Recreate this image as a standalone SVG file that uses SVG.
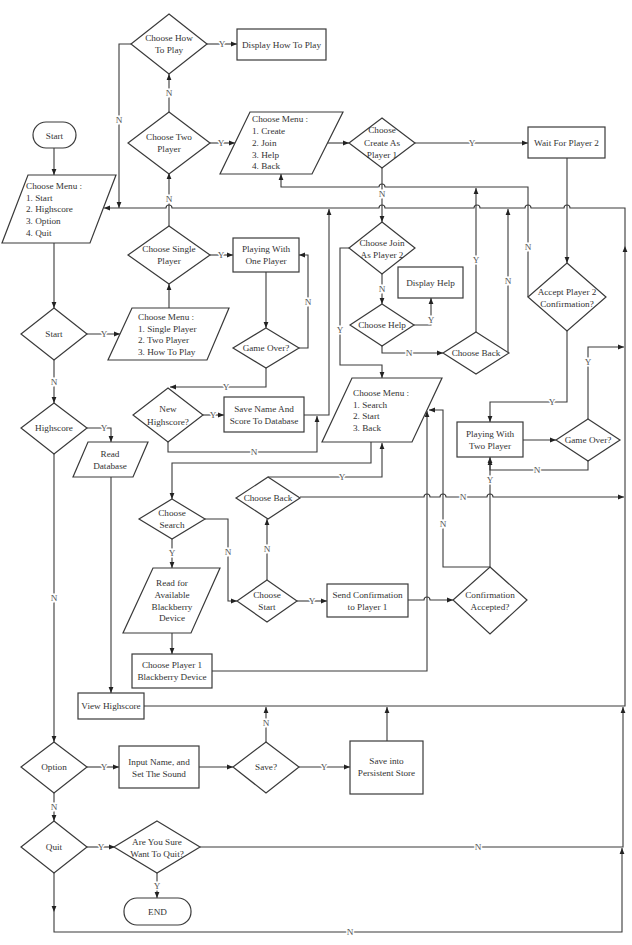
<svg xmlns="http://www.w3.org/2000/svg" width="632" height="945" viewBox="0 0 632 945">
<style>
.n{fill:#fff;stroke:#3a3a3a;stroke-width:1.2}
.c{fill:none;stroke:#3a3a3a;stroke-width:1.1;marker-end:url(#a)}
.p{fill:none;stroke:#3a3a3a;stroke-width:1.1}
text{font-family:"Liberation Serif","Times New Roman",serif;font-size:9.2px;fill:#333}
.m{text-anchor:middle}
.l{text-anchor:middle;fill:#555;paint-order:stroke;stroke:#fff;stroke-width:3px}
</style>
<defs>
<marker id="a" viewBox="0 0 10 10" refX="10" refY="5" markerWidth="6" markerHeight="6" orient="auto" markerUnits="userSpaceOnUse"><path d="M0,1 L10,5 L0,9 z" fill="#222"/></marker>
</defs>
<rect width="632" height="945" fill="#fff"/>

<g id="connectors">
<path class="c" d="M54,148 V175"/>
<path class="c" d="M54,243 V308"/>
<path class="c" d="M87,334 H120"/>
<path class="c" d="M169,308 V284"/>
<path class="c" d="M210,255 H233"/>
<path class="c" d="M169,226 V173"/>
<path class="c" d="M169,112 V74"/>
<path class="c" d="M207,44 H237"/>
<path class="c" d="M131,44 H119 V208"/>
<path class="c" d="M210,143 H235"/>
<path class="c" d="M327.5,143 H349"/>
<path class="c" d="M415,143 H528"/>
<path class="c" d="M382,168 V222"/>
<path class="c" d="M567,158 V263"/>
<path class="c" d="M528,297 V187 H385 A3,3 0 0 0 379,187 H281 V174"/>
<path class="c" d="M567,331 V402 H490 V422"/>
<path class="c" d="M523,440 H556"/>
<path class="c" d="M588,419 V347 H624"/>
<path class="c" d="M588,461 V470 H490 V457"/>
<path class="c" d="M350,248 H340 V365 H382 V378"/>
<path class="c" d="M382,274 V304"/>
<path class="c" d="M414,325 H431 V298"/>
<path class="c" d="M382,346 V353 H443"/>
<path class="c" d="M476,332 V188"/>
<path class="c" d="M508,353 V209"/>
<path class="c" d="M266,272 V328"/>
<path class="c" d="M299,348 H308 V255 H299"/>
<path class="c" d="M266,368 V387 H170"/>
<path class="c" d="M203,415 H224"/>
<path class="c" d="M304,415 H329 V209"/>
<path class="c" d="M168,442 V452 H317 V416"/>
<path class="c" d="M54,360 V403"/>
<path class="c" d="M87,428 H111 V442"/>
<path class="c" d="M111,477 V693"/>
<path class="c" d="M54,454 V742"/>
<path class="c" d="M87,767 H119"/>
<path class="c" d="M199,767 H233"/>
<path class="c" d="M299,767 H350"/>
<path class="c" d="M266,742 V707"/>
<path class="c" d="M387,741 V707"/>
<path class="c" d="M54,793 V821"/>
<path class="c" d="M87,847 H115"/>
<path class="c" d="M157,873 V898"/>
<path class="c" d="M54,873 V912"/>
<path class="c" d="M54,912 V932 H622 V848"/>
<path class="c" d="M200,847 H623 V707"/>
<path class="c" d="M144,706 H625 V246"/>
<path class="c" d="M625,246 V208 H570 A3,3 0 0 0 564,208 H531 A3,3 0 0 0 525,208 H480 A3,3 0 0 0 474,208 H385 A3,3 0 0 0 379,208 H172 A3,3 0 0 0 166,208 H104"/>
<path class="c" d="M371,442 V463 H172 V499"/>
<path class="c" d="M172,539 V568"/>
<path class="c" d="M172,633 V654"/>
<path class="c" d="M212,671 H427 V411"/>
<path class="c" d="M205,519 H228 V601 H237"/>
<path class="c" d="M267,580 V519"/>
<path class="c" d="M268,477 H382 V443"/>
<path class="c" d="M300,497 H424 A3,3 0 0 1 430,497 H440 A3,3 0 0 1 446,497 H487 A3,3 0 0 1 493,497 H624"/>
<path class="c" d="M297,601 H327"/>
<path class="c" d="M408,600 H424 A3,3 0 0 1 430,600 H453"/>
<path class="c" d="M490,567 V459"/>
<path class="c" d="M490,567 H443 V410 H429"/>
</g>

<g id="labels">
<text class="l" x="104" y="337">Y</text>
<text class="l" x="221" y="258">Y</text>
<text class="l" x="169" y="202">N</text>
<text class="l" x="169" y="96">N</text>
<text class="l" x="222" y="47">Y</text>
<text class="l" x="119" y="123">N</text>
<text class="l" x="221" y="146">Y</text>
<text class="l" x="472" y="146">Y</text>
<text class="l" x="382" y="197">N</text>
<text class="l" x="528" y="250">N</text>
<text class="l" x="552" y="405">Y</text>
<text class="l" x="588" y="365">Y</text>
<text class="l" x="537" y="473">N</text>
<text class="l" x="340" y="333">Y</text>
<text class="l" x="382" y="292">N</text>
<text class="l" x="431" y="323">Y</text>
<text class="l" x="409" y="356">N</text>
<text class="l" x="476" y="263">Y</text>
<text class="l" x="508" y="284">N</text>
<text class="l" x="308" y="305">N</text>
<text class="l" x="226" y="390">Y</text>
<text class="l" x="213" y="418">Y</text>
<text class="l" x="254" y="455">N</text>
<text class="l" x="54" y="385">N</text>
<text class="l" x="104" y="431">Y</text>
<text class="l" x="54" y="601">N</text>
<text class="l" x="104" y="770">Y</text>
<text class="l" x="324" y="770">Y</text>
<text class="l" x="266" y="726">N</text>
<text class="l" x="54" y="810">N</text>
<text class="l" x="101" y="850">Y</text>
<text class="l" x="157" y="889">Y</text>
<text class="l" x="478" y="850">N</text>
<text class="l" x="350" y="935">N</text>
<text class="l" x="172" y="556">Y</text>
<text class="l" x="228" y="555">N</text>
<text class="l" x="267" y="552">N</text>
<text class="l" x="342" y="480">Y</text>
<text class="l" x="463" y="500">N</text>
<text class="l" x="312" y="604">Y</text>
<text class="l" x="490" y="483">Y</text>
<text class="l" x="443" y="527">N</text>
</g>

<g id="start"><rect class="n" x="33" y="122" width="43" height="26" rx="13"/><text class="m" x="54.5" y="138.5">Start</text></g>
<g id="main-menu"><polygon class="n" points="28,175 116,175 90,243 2,243"/>
<text x="26" y="189">Choose Menu :</text><text x="26" y="200.5">1. Start</text><text x="26" y="212">2. Highscore</text><text x="26" y="224">3. Option</text><text x="26" y="235.5">4. Quit</text></g>
<g id="choose-how-to-play"><polygon class="n" points="169,14 207,44 169,74 131,44"/><text class="m" x="169" y="41">Choose How</text><text class="m" x="169" y="53">To Play</text></g>
<g id="display-how-to-play"><rect class="n" x="237" y="29" width="89" height="31"/><text class="m" x="281.5" y="47.5">Display How To Play</text></g>
<g id="choose-two-player"><polygon class="n" points="169,112 210,143 169,174 128,143"/><text class="m" x="169" y="140">Choose Two</text><text class="m" x="169" y="151.5">Player</text></g>
<g id="create-menu"><polygon class="n" points="250,112 343,112 312,174 220,174"/>
<text x="252" y="122">Choose Menu :</text><text x="252" y="134">1. Create</text><text x="252" y="146">2. Join</text><text x="252" y="157.5">3. Help</text><text x="252" y="169">4. Back</text></g>
<g id="choose-create"><polygon class="n" points="382,118 415,143 382,168 349,143"/><text class="m" x="382" y="133">Choose</text><text class="m" x="382" y="146">Create As</text><text class="m" x="382" y="158">Player 1</text></g>
<g id="wait-player2"><rect class="n" x="528" y="127" width="77" height="31"/><text class="m" x="566.5" y="145.5">Wait For Player 2</text></g>
<g id="choose-single"><polygon class="n" points="169,226 210,255 169,284 128,255"/><text class="m" x="169" y="252">Choose Single</text><text class="m" x="169" y="264">Player</text></g>
<g id="playing-one"><rect class="n" x="233" y="238" width="66" height="34"/><text class="m" x="266" y="252">Playing With</text><text class="m" x="266" y="264">One Player</text></g>
<g id="start-dec"><polygon class="n" points="54,308 87,334 54,360 21,334"/><text class="m" x="54" y="337">Start</text></g>
<g id="single-menu"><polygon class="n" points="132,308 229,308 207,360 108,360"/>
<text x="138" y="320">Choose Menu :</text><text x="138" y="331.5">1. Single Player</text><text x="138" y="343">2. Two Player</text><text x="138" y="355">3. How To Play</text></g>
<g id="game-over1"><polygon class="n" points="266,328 299,348 266,368 233,348"/><text class="m" x="266" y="351">Game Over?</text></g>
<g id="choose-join"><polygon class="n" points="382,222 415,248 382,274 349,248"/><text class="m" x="382" y="246">Choose Join</text><text class="m" x="382" y="257.5">As Player 2</text></g>
<g id="display-help"><rect class="n" x="398" y="267" width="65" height="31"/><text class="m" x="430.5" y="285.5">Display Help</text></g>
<g id="choose-help"><polygon class="n" points="382,304 414,325 382,346 350,325"/><text class="m" x="382" y="328">Choose Help</text></g>
<g id="choose-back1"><polygon class="n" points="476,332 509,353 476,374 443,353"/><text class="m" x="476" y="356">Choose Back</text></g>
<g id="accept-player2"><polygon class="n" points="567,263 606,297 567,331 528,297"/><text class="m" x="567" y="295">Accept Player 2</text><text class="m" x="567" y="306.5">Confirmation?</text></g>
<g id="highscore"><polygon class="n" points="54,403 87,428 54,454 21,428"/><text class="m" x="54" y="431">Highscore</text></g>
<g id="read-database"><polygon class="n" points="88,442 148,442 133,477 73,477"/><text class="m" x="110" y="457">Read</text><text class="m" x="110" y="469">Database</text></g>
<g id="new-highscore"><polygon class="n" points="168,388 203,415 168,442 133,415"/><text class="m" x="168" y="412">New</text><text class="m" x="168" y="425">Highscore?</text></g>
<g id="save-name"><rect class="n" x="224" y="397" width="80" height="35"/><text class="m" x="264" y="412">Save Name And</text><text class="m" x="264" y="424">Score To Database</text></g>
<g id="search-menu"><polygon class="n" points="352,378 442,378 412,442 322,442"/>
<text x="353" y="396">Choose Menu :</text><text x="353" y="407.5">1. Search</text><text x="353" y="419">2. Start</text><text x="353" y="430.5">3. Back</text></g>
<g id="playing-two"><rect class="n" x="457" y="422" width="66" height="35"/><text class="m" x="490" y="436.5">Playing With</text><text class="m" x="490" y="448.5">Two Player</text></g>
<g id="game-over2"><polygon class="n" points="588,419 620,440 588,461 556,440"/><text class="m" x="588" y="443">Game Over?</text></g>
<g id="choose-search"><polygon class="n" points="172,499 205,519 172,539 139,519"/><text class="m" x="172" y="516">Choose</text><text class="m" x="172" y="527.5">Search</text></g>
<g id="choose-back2"><polygon class="n" points="268,477 300,498 268,519 236,498"/><text class="m" x="268" y="501">Choose Back</text></g>
<g id="read-available"><polygon class="n" points="153,568 220,568 191,633 123,633"/><text class="m" x="172" y="586">Read for</text><text class="m" x="172" y="598">Available</text><text class="m" x="172" y="609.5">Blackberry</text><text class="m" x="172" y="621">Device</text></g>
<g id="choose-start"><polygon class="n" points="267,580 297,601 267,622 237,601"/><text class="m" x="267" y="598">Choose</text><text class="m" x="267" y="610">Start</text></g>
<g id="send-confirmation"><rect class="n" x="327" y="584" width="81" height="33"/><text class="m" x="367.5" y="598">Send Confirmation</text><text class="m" x="367.5" y="609.5">to Player 1</text></g>
<g id="confirmation-accepted"><polygon class="n" points="490,567 527,600 490,634 453,600"/><text class="m" x="490" y="598">Confirmation</text><text class="m" x="490" y="609.5">Accepted?</text></g>
<g id="choose-player1"><rect class="n" x="132" y="654" width="80" height="34"/><text class="m" x="172" y="668">Choose Player 1</text><text class="m" x="172" y="680">Blackberry Device</text></g>
<g id="view-highscore"><rect class="n" x="78" y="693" width="66" height="26"/><text class="m" x="111" y="709">View Highscore</text></g>
<g id="option"><polygon class="n" points="54,742 87,767 54,793 21,767"/><text class="m" x="54" y="770">Option</text></g>
<g id="input-name"><rect class="n" x="119" y="746" width="80" height="42"/><text class="m" x="159" y="765">Input Name, and</text><text class="m" x="159" y="776.5">Set The Sound</text></g>
<g id="save-dec"><polygon class="n" points="266,742 299,767 266,793 233,767"/><text class="m" x="266" y="770">Save?</text></g>
<g id="save-persistent"><rect class="n" x="350" y="741" width="73" height="53"/><text class="m" x="386.5" y="764">Save into</text><text class="m" x="386.5" y="776">Persistent Store</text></g>
<g id="quit"><polygon class="n" points="54,821 87,847 54,873 21,847"/><text class="m" x="54" y="850">Quit</text></g>
<g id="are-you-sure"><polygon class="n" points="157,821 200,847 157,873 114,847"/><text class="m" x="157" y="845">Are You Sure</text><text class="m" x="157" y="856.5">Want To Quit?</text></g>
<g id="end"><rect class="n" x="124" y="898" width="67" height="27" rx="13"/><text class="m" x="157.5" y="914.5">END</text></g>
</svg>
